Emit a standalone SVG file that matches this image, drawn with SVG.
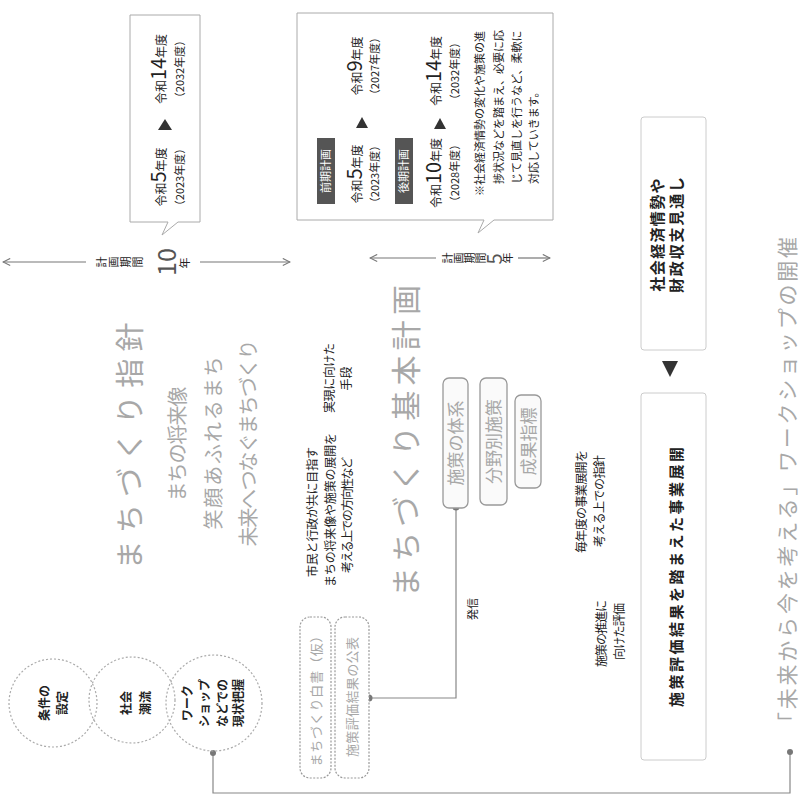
<svg xmlns="http://www.w3.org/2000/svg" width="803" height="799" viewBox="0 0 803 799">
<defs>
<style>
.t{font-family:"Noto Sans CJK JP","Noto Sans",sans-serif;}
.dk{fill:#222;}
.md{fill:#555;}
.gy{fill:#a8a8a8;}
.wh{fill:#fff;}
.b{font-weight:bold;}
.box{fill:#fff;stroke:#aaa;stroke-width:1;}
.fbox{fill:#fff;stroke:#ccc;stroke-width:1;}
.circ{fill:none;stroke:#aaa;stroke-width:1.2;stroke-dasharray:2 2;}
.rbox{fill:#fff;stroke:#999;stroke-width:1.2;stroke-dasharray:2 1.5;}
.gbox{fill:#fafafa;stroke:#999;stroke-width:1.3;}
.con{fill:none;stroke:#888;stroke-width:1.2;}
.per{fill:none;stroke:#777;stroke-width:1.2;}
.lbl{fill:#555;}
.tri{fill:#333;}
.dot{fill:#777;}
</style>
<marker id="chev" viewBox="0 0 10 10" refX="9" refY="5" markerWidth="9" markerHeight="9" orient="auto-start-reverse" markerUnits="userSpaceOnUse">
<path d="M1,1 L9,5 L1,9" fill="none" stroke="#777" stroke-width="1.2"/>
</marker>
</defs>
<rect x="0" y="0" width="803" height="799" fill="#fff"/>

<g id="connectors">
<polyline class="con" points="213,753 213,793 790,793 790,752"/>
<circle class="dot" cx="213" cy="753" r="3"/>
<circle class="dot" cx="790" cy="752" r="3"/>
<polyline class="con" points="456,507 456,698 369,698"/>
<circle class="dot" cx="456" cy="507" r="3.5"/>
<circle class="dot" cx="369" cy="698" r="3.5"/>
<text class="t dk" font-size="11" text-anchor="middle" transform="translate(477 609) rotate(-90)">発信</text>
<polygon class="tri" points="662,361 678,361 670,377"/>
</g>

<g id="period1">
<path class="box" d="M130 15 H200 V222 H178 L162 235 L168 222 H130 Z"/>
<text class="t dk" text-anchor="middle" transform="translate(166 177) rotate(-90)"><tspan font-size="12">令和</tspan><tspan font-size="20">5</tspan><tspan font-size="12">年度</tspan></text>
<text class="t dk" font-size="11" text-anchor="middle" transform="translate(184 177) rotate(-90)">（2023年度）</text>
<polygon class="tri" points="165,119 158,130 172,130"/>
<text class="t dk" text-anchor="middle" transform="translate(166 69) rotate(-90)"><tspan font-size="12">令和</tspan><tspan font-size="20">14</tspan><tspan font-size="12">年度</tspan></text>
<text class="t dk" font-size="11" text-anchor="middle" transform="translate(184 69) rotate(-90)">（2032年度）</text>
</g>

<g id="span1">
<line class="per" x1="3" y1="262" x2="86" y2="262" marker-start="url(#chev)"/>
<line class="per" x1="200" y1="262" x2="290" y2="262" marker-end="url(#chev)"/>
<text class="t dk" font-size="11" text-anchor="middle" transform="translate(106 262) rotate(-90)">計</text>
<text class="t dk" font-size="11" text-anchor="middle" transform="translate(118 262) rotate(-90)">画</text>
<text class="t dk" font-size="11" text-anchor="middle" transform="translate(130 262) rotate(-90)">期</text>
<text class="t dk" font-size="11" text-anchor="middle" transform="translate(142 262) rotate(-90)">間</text>
<text class="t md" font-size="25" text-anchor="middle" transform="translate(176 262) rotate(-90)">10</text>
<text class="t dk" font-size="11" text-anchor="middle" transform="translate(189 263) rotate(-90)">年</text>
</g>

<g id="period2">
<path class="box" d="M297 13 H553 V220 H494 L478 233 L484 220 H297 Z"/>
<rect class="lbl" x="317" y="138" width="18" height="66"/>
<text class="t wh" font-size="11" text-anchor="middle" transform="translate(330 171) rotate(-90)">前期計画</text>
<text class="t dk" text-anchor="middle" transform="translate(362 174) rotate(-90)"><tspan font-size="12">令和</tspan><tspan font-size="20">5</tspan><tspan font-size="12">年度</tspan></text>
<text class="t dk" font-size="11" text-anchor="middle" transform="translate(379 174) rotate(-90)">（2023年度）</text>
<polygon class="tri" points="362,117 356,128 368,128"/>
<text class="t dk" text-anchor="middle" transform="translate(362 66) rotate(-90)"><tspan font-size="12">令和</tspan><tspan font-size="20">9</tspan><tspan font-size="12">年度</tspan></text>
<text class="t dk" font-size="11" text-anchor="middle" transform="translate(379 66) rotate(-90)">（2027年度）</text>
<rect class="lbl" x="395" y="138" width="18" height="66"/>
<text class="t wh" font-size="11" text-anchor="middle" transform="translate(408 171) rotate(-90)">後期計画</text>
<text class="t dk" text-anchor="middle" transform="translate(441 173) rotate(-90)"><tspan font-size="12">令和</tspan><tspan font-size="20">10</tspan><tspan font-size="12">年度</tspan></text>
<text class="t dk" font-size="11" text-anchor="middle" transform="translate(459 173) rotate(-90)">（2028年度）</text>
<polygon class="tri" points="440,118 434,129 446,129"/>
<text class="t dk" text-anchor="middle" transform="translate(441 71) rotate(-90)"><tspan font-size="12">令和</tspan><tspan font-size="20">14</tspan><tspan font-size="12">年度</tspan></text>
<text class="t dk" font-size="11" text-anchor="middle" transform="translate(459 71) rotate(-90)">（2032年度）</text>
<text class="t dk" font-size="11" transform="translate(484 196) rotate(-90)">※社会経済情勢の変化や施策の進</text>
<text class="t dk" font-size="11" transform="translate(503 184) rotate(-90)">捗状況などを踏まえ、必要に応</text>
<text class="t dk" font-size="11" transform="translate(521 184) rotate(-90)">じて見直しを行うなど、柔軟に</text>
<text class="t dk" font-size="11" transform="translate(538 184) rotate(-90)">対応していきます。</text>
</g>

<g id="span2">
<line class="per" x1="370" y1="258" x2="436" y2="258" marker-start="url(#chev)"/>
<line class="per" x1="518" y1="258" x2="550" y2="258" marker-end="url(#chev)"/>
<text class="t dk" font-size="11" text-anchor="middle" transform="translate(452 258) rotate(-90)">計</text>
<text class="t dk" font-size="11" text-anchor="middle" transform="translate(463 258) rotate(-90)">画</text>
<text class="t dk" font-size="11" text-anchor="middle" transform="translate(474 258) rotate(-90)">期</text>
<text class="t dk" font-size="11" text-anchor="middle" transform="translate(485 258) rotate(-90)">間</text>
<text class="t md" font-size="20" text-anchor="middle" transform="translate(502 259) rotate(-90)">5</text>
<text class="t dk" font-size="11" text-anchor="middle" transform="translate(512 258) rotate(-90)">年</text>
</g>

<g id="shishin">
<text class="t gy" font-size="29" text-anchor="middle" textLength="247" transform="translate(141 446) rotate(-90)">まちづくり指針</text>
<text class="t gy" font-size="20" text-anchor="middle" textLength="115" transform="translate(185 444) rotate(-90)">まちの将来像</text>
<text class="t gy" font-size="20" text-anchor="middle" textLength="173" transform="translate(221 443) rotate(-90)">笑顔あふれるまち</text>
<text class="t gy" font-size="20" text-anchor="middle" textLength="207" transform="translate(256 443) rotate(-90)">未来へつなぐまちづくり</text>
</g>

<g id="shishin-note">
<text class="t dk" font-size="12" text-anchor="middle" textLength="130" transform="translate(316.5 512) rotate(-90)">市民と行政が共に目指す</text>
<text class="t dk" font-size="12" text-anchor="middle" textLength="154" transform="translate(334.5 510) rotate(-90)">まちの将来像や施策の展開を</text>
<text class="t dk" font-size="12" text-anchor="middle" textLength="116" transform="translate(351.5 515) rotate(-90)">考える上での方向性など</text>
</g>

<g id="shudan">
<text class="t dk" font-size="12" text-anchor="middle" textLength="70" transform="translate(333.5 378) rotate(-90)">実現に向けた</text>
<text class="t dk" font-size="12" text-anchor="middle" transform="translate(350.5 378.5) rotate(-90)">手段</text>
</g>

<g id="kihonkeikaku">
<text class="t gy" font-size="30" text-anchor="middle" textLength="312" transform="translate(417 441) rotate(-90)">まちづくり基本計画</text>
</g>

<g id="item1">
<rect class="gbox" x="443" y="378" width="25" height="130" rx="6"/>
<text class="t gy" font-size="17" text-anchor="middle" transform="translate(462 443) rotate(-90)">施策の体系</text>
</g>
<g id="item2">
<rect class="gbox" x="480" y="378" width="27" height="127" rx="6"/>
<text class="t gy" font-size="17" text-anchor="middle" transform="translate(500 441.5) rotate(-90)">分野別施策</text>
</g>
<g id="item3">
<rect class="gbox" x="515" y="395" width="26" height="93" rx="6"/>
<text class="t gy" font-size="17" text-anchor="middle" transform="translate(534.5 441.5) rotate(-90)">成果指標</text>
</g>

<g id="report">
<rect class="rbox" x="300" y="617" width="31" height="161" rx="10"/>
<text class="t gy" font-size="13" text-anchor="middle" textLength="137" transform="translate(320.5 698) rotate(-90)">まちづくり白書（仮）</text>
</g>
<g id="publish">
<rect class="rbox" x="335" y="617" width="34" height="161" rx="10"/>
<text class="t gy" font-size="13" text-anchor="middle" textLength="120" transform="translate(357 697) rotate(-90)">施策評価結果の公表</text>
</g>

<g id="tenkai-note">
<text class="t dk" font-size="12" text-anchor="middle" textLength="103" transform="translate(585.5 501.5) rotate(-90)">毎年度の事業展開を</text>
<text class="t dk" font-size="12" text-anchor="middle" textLength="92" transform="translate(603.5 501) rotate(-90)">考える上での指針</text>
<text class="t dk" font-size="12" text-anchor="middle" textLength="67" transform="translate(605.5 633.5) rotate(-90)">施策の推進に</text>
<text class="t dk" font-size="12" text-anchor="middle" textLength="57" transform="translate(623.5 631.5) rotate(-90)">向けた評価</text>
</g>

<g id="shakai">
<rect class="fbox" x="641" y="117" width="65" height="233" rx="3"/>
<text class="t dk b" font-size="15" text-anchor="middle" textLength="113" transform="translate(663 235) rotate(-90)">社会経済情勢や</text>
<text class="t dk b" font-size="15" text-anchor="middle" textLength="116" transform="translate(682 235) rotate(-90)">財政収支見通し</text>
</g>

<g id="jigyo">
<rect class="fbox" x="641" y="393" width="65" height="367" rx="3"/>
<text class="t dk b" font-size="15" text-anchor="middle" textLength="260" transform="translate(682 577) rotate(-90)">施策評価結果を踏まえた事業展開</text>
</g>

<g id="workshop">
<text class="t gy" font-size="21" text-anchor="middle" textLength="496" transform="translate(795 485) rotate(-90)">「未来から今を考える」ワークショップの開催</text>
</g>

<g id="c1">
<circle class="circ" cx="53" cy="703" r="44"/>
<text class="t dk b" font-size="12" text-anchor="middle" transform="translate(48.5 703) rotate(-90)">条件の</text>
<text class="t dk b" font-size="12" text-anchor="middle" transform="translate(67 703) rotate(-90)">設定</text>
</g>
<g id="c2">
<circle class="circ" cx="132" cy="700" r="43"/>
<text class="t dk b" font-size="12" text-anchor="middle" transform="translate(130.5 703) rotate(-90)">社会</text>
<text class="t dk b" font-size="12" text-anchor="middle" transform="translate(150 703) rotate(-90)">潮流</text>
</g>
<g id="c3">
<circle class="circ" cx="214" cy="703" r="48"/>
<text class="t dk b" font-size="12" text-anchor="middle" transform="translate(191.5 703) rotate(-90)">ワーク</text>
<text class="t dk b" font-size="12" text-anchor="middle" transform="translate(208.5 703) rotate(-90)">ショップ</text>
<text class="t dk b" font-size="12" text-anchor="middle" transform="translate(226.5 703) rotate(-90)">などでの</text>
<text class="t dk b" font-size="12" text-anchor="middle" transform="translate(243 703) rotate(-90)">現状把握</text>
</g>
</svg>
